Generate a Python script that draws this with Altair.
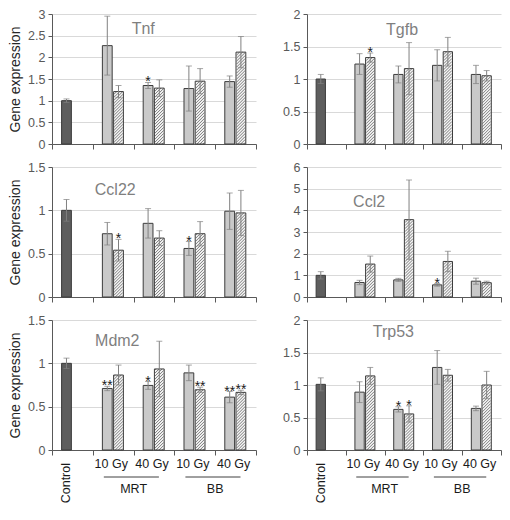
import altair as alt
import pandas as pd

groups = ["Control", "MRT 10 Gy", "MRT 40 Gy", "BB 10 Gy", "BB 40 Gy"]
dose_labels = ["10 Gy", "40 Gy", "10 Gy", "40 Gy"]
modalities = ["MRT", "BB"]
modality_first = ["MRT 10 Gy", "BB 10 Gy"]
modality_last = ["MRT 40 Gy", "BB 40 Gy"]

genes = ["Tnf", "Tgfb", "Ccl22", "Ccl2", "Mdm2", "Trp53"]
y_max = [3, 2, 1.5, 6, 1.5, 2]
y_step = [0.5, 0.5, 0.5, 1, 0.5, 0.5]

# solid bars: Control + first bar of each treatment group
tnf_solid = [1.00, 2.27, 1.35, 1.28, 1.44]
tnf_solid_err = [0.04, 0.68, 0.07, 0.52, 0.13]
tnf_solid_sig = ["", "", "*", "", ""]
tnf_hatch = [1.21, 1.29, 1.45, 2.12]
tnf_hatch_err = [0.14, 0.19, 0.29, 0.36]
tnf_hatch_sig = ["", "", "", ""]

tgfb_solid = [1.00, 1.23, 1.07, 1.21, 1.07]
tgfb_solid_err = [0.07, 0.16, 0.13, 0.24, 0.14]
tgfb_solid_sig = ["", "", "", "", ""]
tgfb_hatch = [1.33, 1.16, 1.42, 1.05]
tgfb_hatch_err = [0.07, 0.40, 0.22, 0.08]
tgfb_hatch_sig = ["*", "", "", ""]

ccl22_solid = [1.00, 0.73, 0.85, 0.56, 0.99]
ccl22_solid_err = [0.125, 0.13, 0.17, 0.08, 0.21]
ccl22_solid_sig = ["", "", "", "*", ""]
ccl22_hatch = [0.54, 0.68, 0.73, 0.97]
ccl22_hatch_err = [0.125, 0.085, 0.14, 0.26]
ccl22_hatch_sig = ["*", "", "", ""]

ccl2_solid = [1.00, 0.67, 0.79, 0.56, 0.73]
ccl2_solid_err = [0.17, 0.10, 0.07, 0.06, 0.14]
ccl2_solid_sig = ["", "", "", "*", ""]
ccl2_hatch = [1.52, 3.57, 1.64, 0.66]
ccl2_hatch_err = [0.37, 1.83, 0.47, 0.07]
ccl2_hatch_sig = ["", "", "", ""]

mdm2_solid = [1.00, 0.71, 0.745, 0.89, 0.61]
mdm2_solid_err = [0.06, 0.025, 0.045, 0.09, 0.065]
mdm2_solid_sig = ["", "**", "*", "", "**"]
mdm2_hatch = [0.865, 0.935, 0.695, 0.665]
mdm2_hatch_err = [0.115, 0.32, 0.03, 0.025]
mdm2_hatch_sig = ["", "", "**", "**"]

trp53_solid = [1.01, 0.89, 0.625, 1.27, 0.64]
trp53_solid_err = [0.10, 0.16, 0.04, 0.26, 0.035]
trp53_solid_sig = ["", "", "*", "", ""]
trp53_hatch = [1.14, 0.555, 1.15, 1.00]
trp53_hatch_err = [0.13, 0.125, 0.09, 0.21]
trp53_hatch_sig = ["", "*", "", ""]

solid_all = [tnf_solid, tgfb_solid, ccl22_solid, ccl2_solid, mdm2_solid, trp53_solid]
solid_err_all = [tnf_solid_err, tgfb_solid_err, ccl22_solid_err, ccl2_solid_err, mdm2_solid_err, trp53_solid_err]
solid_sig_all = [tnf_solid_sig, tgfb_solid_sig, ccl22_solid_sig, ccl2_solid_sig, mdm2_solid_sig, trp53_solid_sig]
hatch_all = [tnf_hatch, tgfb_hatch, ccl22_hatch, ccl2_hatch, mdm2_hatch, trp53_hatch]
hatch_err_all = [tnf_hatch_err, tgfb_hatch_err, ccl22_hatch_err, ccl2_hatch_err, mdm2_hatch_err, trp53_hatch_err]
hatch_sig_all = [tnf_hatch_sig, tgfb_hatch_sig, ccl22_hatch_sig, ccl2_hatch_sig, mdm2_hatch_sig, trp53_hatch_sig]

rows = []
for k, gene in enumerate(genes):
    for i, grp in enumerate(groups):
        rows.append(dict(gene=gene, group=grp, gi=i, series="a",
                         kind="ctrl" if i == 0 else "solid",
                         mean=solid_all[k][i], err=solid_err_all[k][i],
                         sig=solid_sig_all[k][i]))
    for i, grp in enumerate(groups[1:]):
        rows.append(dict(gene=gene, group=grp, gi=i + 1, series="b", kind="hatch",
                         mean=hatch_all[k][i], err=hatch_err_all[k][i],
                         sig=hatch_sig_all[k][i]))
df = pd.DataFrame(rows)
df["lo"] = df["mean"] - df["err"]
df["hi"] = df["mean"] + df["err"]

FONT = "Liberation Sans"
AX = "#595959"
# bar placement inside one group slot (fractions of the slot)
A0, B0, BW = 0.235, 0.51, 0.24
HATCH_S = 3.0
INSET = 0.6

title_pos = {"Tnf": (0.447, 0.115), "Tgfb": (0.49, 0.125), "Ccl22": (0.31, 0.18),
             "Ccl2": (0.32, 0.27), "Mdm2": (0.32, 0.16), "Trp53": (0.445, 0.095)}


def panel(k, W, H, left, bottom):
    gene = genes[k]
    ym = y_max[k]
    d = df[df.gene == gene]
    ng = len(groups)
    ticks = [round(j * y_step[k], 3) for j in range(int(round(ym / y_step[k])) + 1)]
    xscale = alt.Scale(domain=[0, ng], nice=False, zero=False)
    yscale = alt.Scale(domain=[0, ym], nice=False, zero=True)
    xaxis = alt.Axis(values=list(range(ng + 1)), labels=False, ticks=True, tickSize=5,
                     tickColor=AX, domainColor=AX, grid=False, title=None)
    yaxis = alt.Axis(values=ticks, format="~g", grid=True, gridColor="#d9d9d9",
                     domainColor=AX, tickColor=AX, tickSize=4, labelColor=AX,
                     labelFont=FONT, labelFontSize=12.5, labelPadding=3,
                     title="Gene expression" if left else None,
                     titleFontSize=14, titleColor="#262626", titleFontWeight="normal",
                     titleFont=FONT, titlePadding=5)

    def X(f):
        return alt.X(f, scale=xscale, axis=xaxis, title=None)

    def Y(f):
        return alt.Y(f, scale=yscale, axis=yaxis)

    base = alt.Chart(d).transform_calculate(
        bx0=f"datum.gi + (datum.series == 'a' ? {A0} : {B0})"
    ).transform_calculate(
        bx1=f"datum.bx0 + {BW}", bxc=f"datum.bx0 + {BW / 2}"
    )

    fills = base.mark_bar(strokeWidth=0).encode(
        x=X("bx0:Q"), x2="bx1:Q", y=Y("mean:Q"), y2=alt.datum(0),
        fill=alt.Fill("kind:N", scale=alt.Scale(domain=["ctrl", "solid", "hatch"],
                                                range=["#5e5e5e", "#c9c9c9", "#f4f4f4"]),
                      legend=None))

    # hatch lines inside the hatched bars (45 degree in screen space)
    slot = W / ng
    wi = BW * slot - 2 * INSET
    hatch = base.transform_filter("datum.kind == 'hatch'").transform_calculate(
        hp=f"datum.mean * {H} / {ym}"
    ).transform_calculate(
        c=f"sequence({-wi + HATCH_S / 2}, datum.hp, {HATCH_S})"
    ).transform_flatten(["c"]).transform_calculate(
        p0="max(0, -datum.c)", p1=f"min({wi}, datum.hp - datum.c)"
    ).transform_filter("datum.p1 > datum.p0").transform_calculate(
        X0=f"datum.bx0 + ({INSET} + datum.p0) / {slot}",
        X1=f"datum.bx0 + ({INSET} + datum.p1) / {slot}",
        Y0=f"(datum.p0 + datum.c) * {ym} / {H}",
        Y1=f"(datum.p1 + datum.c) * {ym} / {H}",
    ).mark_rule(color="#7c7c7c", strokeWidth=1).encode(
        x=X("X0:Q"), x2="X1:Q", y=Y("Y0:Q"), y2="Y1:Q")

    outline = base.mark_bar(fillOpacity=0, stroke="#3c3c3c", strokeWidth=1).encode(
        x=X("bx0:Q"), x2="bx1:Q", y=Y("mean:Q"), y2=alt.datum(0))

    ebar = base.mark_rule(color="#808080", strokeWidth=1).encode(
        x=X("bxc:Q"), y=Y("lo:Q"), y2="hi:Q")
    cap_hi = base.mark_tick(color="#808080", thickness=1, size=6, orient="horizontal").encode(
        x=X("bxc:Q"), y=Y("hi:Q"))
    cap_lo = base.mark_tick(color="#808080", thickness=1, size=6, orient="horizontal").encode(
        x=X("bxc:Q"), y=Y("lo:Q"))
    stars = base.transform_filter("datum.sig != ''").mark_text(
        fontSize=14, color="#1a1a1a", baseline="alphabetic", dy=4, font=FONT).encode(
        x=X("bxc:Q"), y=Y("hi:Q"), text="sig:N")

    tx, ty = title_pos[gene]
    ttl = alt.Chart(pd.DataFrame({"t": [gene]})).mark_text(
        fontSize=16, color="#7f7f7f", font=FONT, align="center", baseline="middle").encode(
        text="t:N", x=alt.value(tx * W), y=alt.value(ty * H))

    layers = [fills, hatch, outline, ebar, cap_hi, cap_lo, stars, ttl]

    if bottom:
        dl = pd.DataFrame({"gi": list(range(1, ng)), "lab": dose_labels})
        doses = alt.Chart(dl).transform_calculate(xc="datum.gi + 0.5").mark_text(
            fontSize=12.5, color="#1a1a1a", font=FONT, baseline="middle", dx=-2).encode(
            x=X("xc:Q"), text="lab:N", y=alt.value(H + 14))
        cl = pd.DataFrame({"gi": [0], "lab": [groups[0]]})
        ctrl = alt.Chart(cl).transform_calculate(xc=f"datum.gi + {A0 + BW / 2}").mark_text(
            fontSize=12.5, color="#1a1a1a", font=FONT, angle=270, align="right",
            baseline="middle").encode(x=X("xc:Q"), text="lab:N", y=alt.value(H + 13))
        ml = pd.DataFrame({"g1": [groups.index(g) for g in modality_first],
                           "g2": [groups.index(g) for g in modality_last],
                           "mod": modalities})
        under = alt.Chart(ml).transform_calculate(
            u0="datum.g1 + 0.27", u1="datum.g2 + 0.62").mark_rule(
            color="#404040", strokeWidth=1).encode(
            x=X("u0:Q"), x2="u1:Q", y=alt.value(H + 27))
        mods = alt.Chart(ml).transform_calculate(mx="datum.g2").mark_text(
            fontSize=12.5, color="#1a1a1a", font=FONT, baseline="middle").encode(
            x=X("mx:Q"), text="mod:N", y=alt.value(H + 39))
        layers += [doses, ctrl, under, mods]

    return alt.layer(*layers).properties(width=W, height=H)


WL, WR = 204, 194
HS = [130, 130, 130]
panels = []
for k in range(6):
    r = k // 2
    left = (k % 2 == 0)
    panels.append(panel(k, WL if left else WR, HS[r], left, r == 2))

chart = alt.concat(*panels, columns=2, spacing=alt.RowColnumber(row=10, column=25),
                   align="each").properties(
    padding=0
).configure(font=FONT).configure_view(stroke=None)

chart.save("out.html", embed_options={"renderer": "svg", "actions": False})
